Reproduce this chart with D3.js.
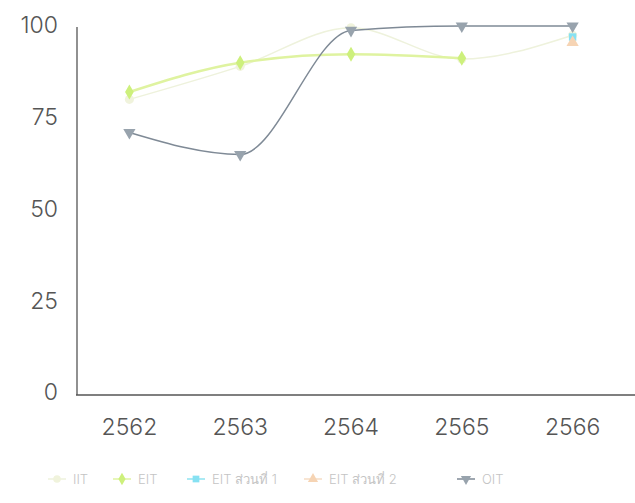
<!DOCTYPE html>
<html><head><meta charset="utf-8">
<script src="https://cdn.jsdelivr.net/npm/d3@7"></script>
<style>body{margin:0;background:#fff;} svg{display:block;font-family:Inter,"Noto Sans",sans-serif;}</style>
</head><body>
<svg id="c" width="635" height="503"></svg>
<script>
const categories = ["2562","2563","2564","2565","2566"];
const yTicks = [0,25,50,75,100];
const iit = [80, 89, 99.5, 91, 97.5];
const eit = [82, 90, 92.3, 91.2, null];
const eitPart1 = [null, null, null, null, 97];
const eitPart2 = [null, null, null, null, 95.5];
const oit = [71, 65, 98.8, 100, 100];
const seriesNames = ["IIT","EIT","EIT ส่วนที่ 1","EIT ส่วนที่ 2","OIT"];

const FONT = 'Inter, "Noto Sans", sans-serif';
const series = [
  {name: seriesNames[0], values: iit, line:"#eef2dc", fill:"#f0f3dc", sym:d3.symbolCircle, w:1.5},
  {name: seriesNames[1], values: eit, line:"#dff3a0", fill:"#cdf07c", sym:d3.symbolDiamond, w:2.5},
  {name: seriesNames[2], values: eitPart1, line:"#8fe3f0", fill:"#86e1f2", sym:d3.symbolSquare, w:2},
  {name: seriesNames[3], values: eitPart2, line:"#f6dcc4", fill:"#f6d4b4", sym:d3.symbolTriangle, w:2},
  {name: seriesNames[4], values: oit, line:"#7f8a96", fill:"#98a3ad", sym:d3.symbolTriangle, w:1.5, down:true}
];

const svg = d3.select("#c");
const x = d3.scaleBand().domain(categories).range([74, 628]);
const y = d3.scaleLinear().domain([0,100]).range([393, 26]);

const yAxis = svg.append("g").attr("transform","translate(77,0)")
  .call(d3.axisLeft(y).tickValues(yTicks).tickSize(0).tickPadding(19))
  .attr("font-family", FONT);
yAxis.select(".domain").attr("stroke","#555").attr("stroke-width",1.3).attr("d","M0,27V395");
yAxis.selectAll("text").attr("font-size",23).attr("fill","#555").attr("font-weight",300).attr("dy","0.3em");

const xAxis = svg.append("g").attr("transform","translate(0,395)")
  .call(d3.axisBottom(x).tickSize(0).tickPadding(24))
  .attr("font-family", FONT);
xAxis.select(".domain").attr("stroke","#555").attr("stroke-width",1.3).attr("d","M76,0H635");
xAxis.selectAll("text").attr("font-size",23).attr("fill","#555").attr("font-weight",300);

const cx = c => x(c) + x.bandwidth()/2;
const line = d3.line().defined(d => d.v != null).x(d => cx(d.c)).y(d => y(d.v)).curve(d3.curveMonotoneX);

series.forEach(s => {
  const pts = categories.map((c,i) => ({c, v: s.values[i]}));
  svg.append("path").attr("d", line(pts)).attr("fill","none").attr("stroke", s.line).attr("stroke-width", s.w);
  svg.selectAll(null).data(pts.filter(d => d.v != null)).enter().append("path")
    .attr("d", d3.symbol().type(s.sym).size(s.sym===d3.symbolSquare?55:65))
    .attr("transform", d => `translate(${cx(d.c)},${y(d.v)})` + (s.down ? " rotate(180)" : ""))
    .attr("fill", s.fill);
});

const legendX = [57, 122, 196, 313, 466];
const lg = svg.append("g").attr("transform","translate(0,479)").attr("font-family", FONT);
series.forEach((s,i) => {
  const g = lg.append("g").attr("transform", `translate(${legendX[i]},0)`);
  g.append("line").attr("x1",-9).attr("x2",9).attr("stroke", s.line).attr("stroke-width",1.5);
  g.append("path").attr("d", d3.symbol().type(s.sym).size(45)).attr("fill", s.fill)
    .attr("transform", s.down ? "rotate(180)" : null);
  g.append("text").attr("x",16).attr("dy","0.35em").attr("font-size",13).attr("fill","#c4c4c4").attr("font-weight",300).text(s.name);
});
</script>
</body></html>
